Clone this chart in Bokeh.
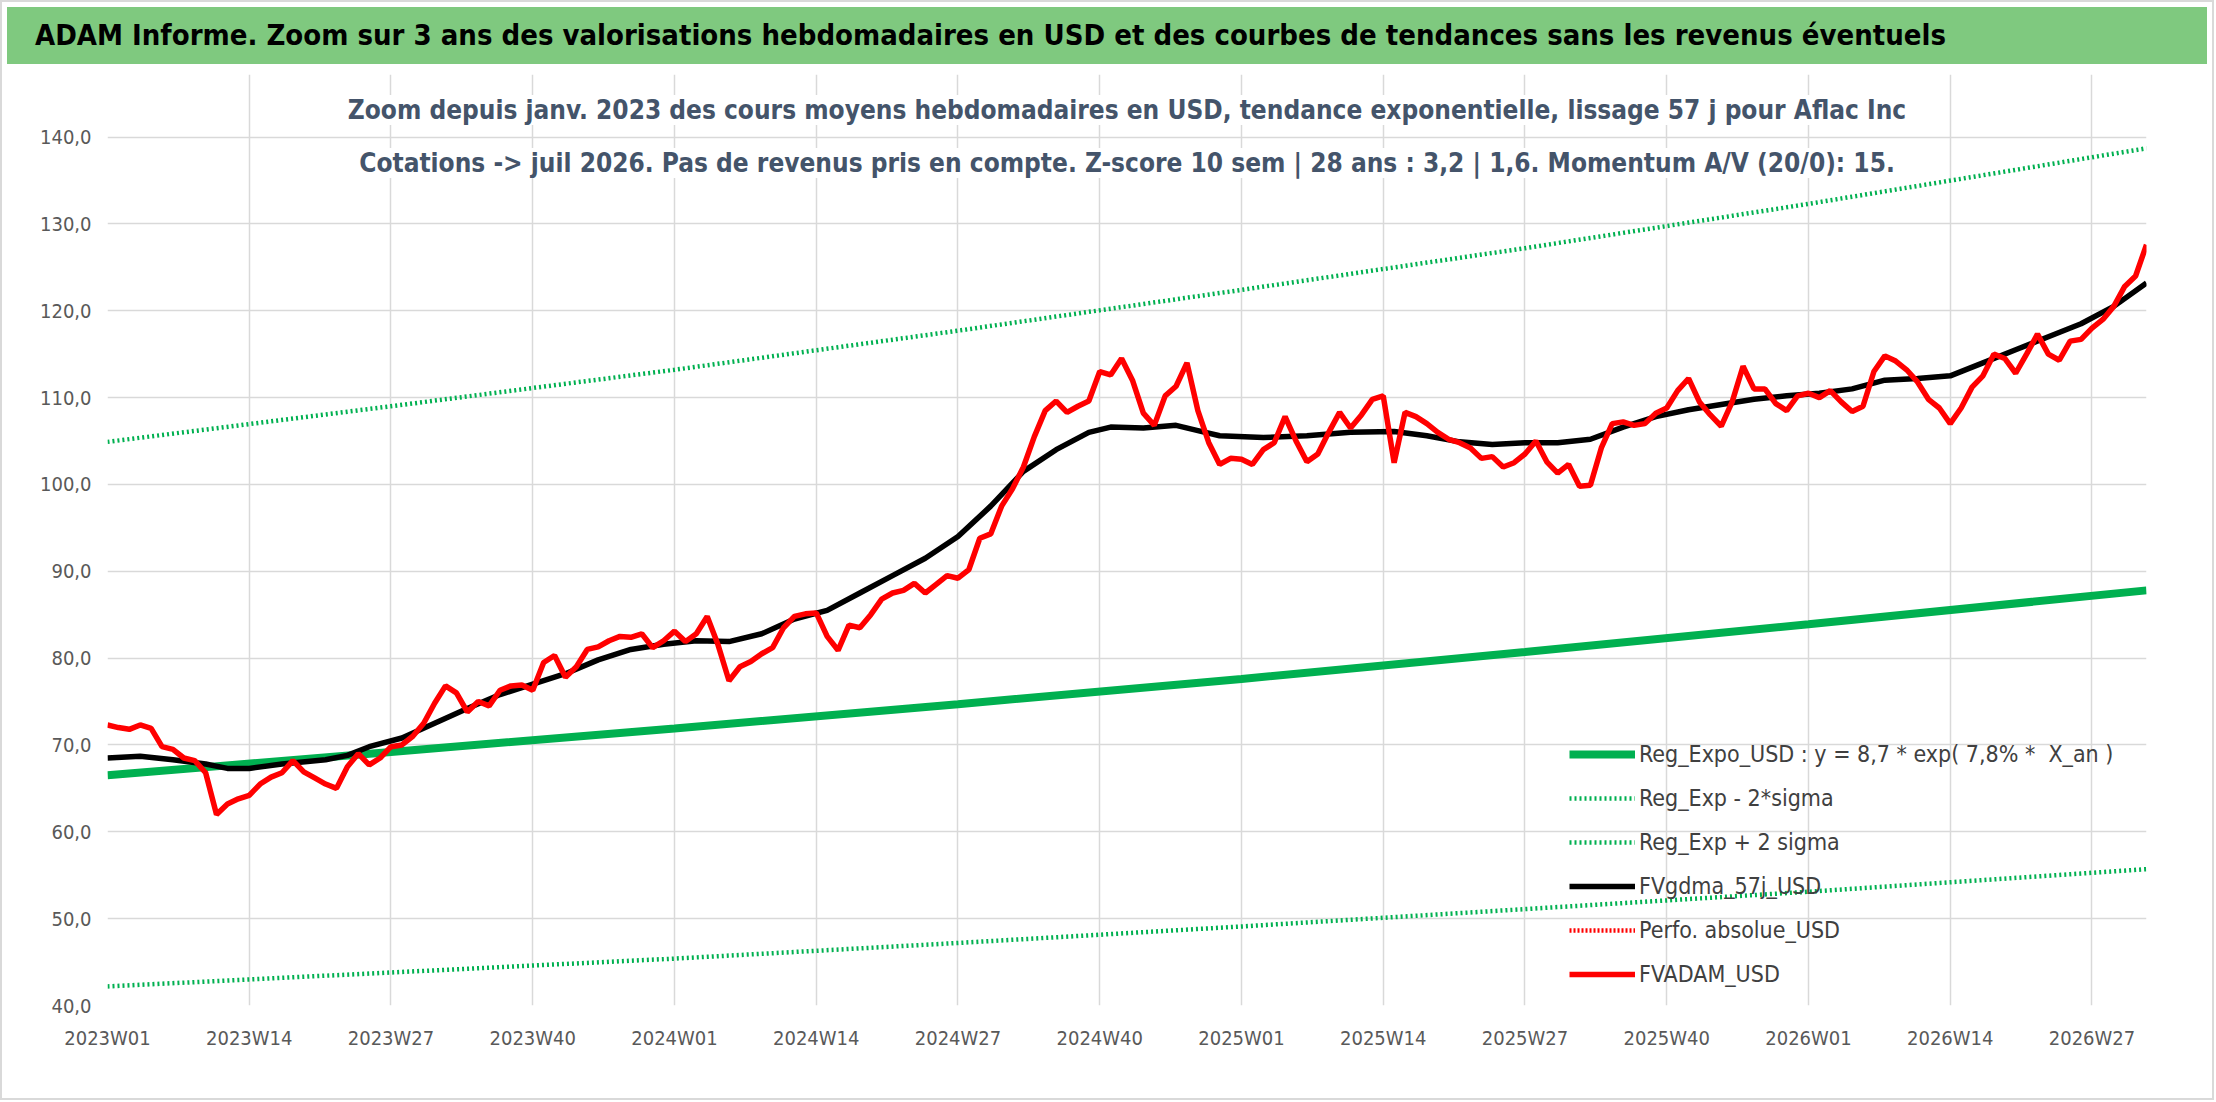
from bokeh.plotting import figure
from bokeh.models import Div, Legend, LegendItem, Label, FixedTicker, Range1d
from bokeh.layouts import column
from bokeh.embed import file_html
from bokeh.resources import INLINE

tick_labels = ["2023W01","2023W14","2023W27","2023W40","2024W01","2024W14","2024W27","2024W40",
               "2025W01","2025W14","2025W27","2025W40","2026W01","2026W14","2026W27"]
tick_pos = [i*13 for i in range(len(tick_labels))]

red_vals = [72.3,72.0,71.8,72.3,71.9,69.8,69.5,68.5,68.2,66.8,62.0,63.2,63.8,64.2,65.5,66.3,66.8,68.2,66.9,66.2,
 65.5,65.0,67.5,69.0,67.7,68.5,69.8,70.0,71.0,72.5,74.8,76.8,76.0,73.8,75.0,74.5,76.3,76.8,76.9,76.3,
 79.5,80.3,77.8,79.0,81.0,81.3,82.0,82.5,82.4,82.8,81.2,82.0,83.1,81.9,82.8,84.8,81.5,77.4,79.0,79.6,
 80.5,81.2,83.5,84.8,85.1,85.2,82.5,80.9,83.8,83.5,85.0,86.8,87.5,87.8,88.6,87.5,88.5,89.5,89.2,90.2,
 93.8,94.3,97.5,99.5,102.0,105.5,108.5,109.6,108.3,109.0,109.6,113.0,112.6,114.5,112.0,108.2,106.8,110.2,111.3,114.0,
 108.5,104.8,102.3,103.0,102.9,102.3,104.0,104.8,107.8,105.0,102.6,103.5,106.0,108.3,106.5,108.0,109.8,110.2,102.5,108.3,
 107.8,107.0,106.0,105.2,104.8,104.2,103.0,103.2,102.0,102.5,103.5,105.0,102.6,101.3,102.3,99.8,99.9,104.2,107.0,107.2,
 106.8,107.0,108.2,108.8,110.8,112.2,109.5,108.0,106.7,109.5,113.6,111.0,111.0,109.3,108.5,110.2,110.5,110.0,110.8,109.5,
 108.4,109.0,113.0,114.8,114.2,113.2,111.8,109.8,108.8,107.0,108.8,111.2,112.5,115.0,114.5,112.8,115.0,117.3,115.0,114.3,
 116.5,116.7,118.0,119.0,120.5,122.8,124.0,127.6]
red_weeks = list(range(len(red_vals)))

black_weeks = [0,3,6,9,11,13,16,20,22,24,27,30,33,36,39,42,45,48,51,54,57,60,63,66,69,72,75,78,81,84,87,90,92,95,98,
               100,102,106,110,114,118,121,124,127,130,133,136,139,142,145,148,151,154,157,160,163,166,169,172,175,178,181,184,187]
black_vals = [68.5,68.7,68.3,67.8,67.3,67.3,67.8,68.3,68.8,69.8,70.8,72.5,74.2,75.8,77.0,78.2,79.8,81.0,81.6,82.0,
              81.9,82.8,84.5,85.5,87.5,89.5,91.5,94.0,97.5,101.5,104.0,106.0,106.6,106.5,106.8,106.2,105.6,105.4,105.6,106.0,
              106.1,105.6,104.9,104.6,104.8,104.8,105.2,106.6,107.8,108.6,109.2,109.8,110.2,110.5,111.0,112.0,112.2,112.5,114.0,115.5,
              117.0,118.5,120.5,123.2]

trend_weeks = [0,26,52,78,104,130,156,187]
trend_vals = [66.5,69.2,71.9,74.7,77.6,80.7,83.9,87.8]
upper_vals = [104.9,109.0,113.2,117.7,122.4,127.2,132.3,138.7]
lower_vals = [42.2,43.8,45.4,47.2,49.1,51.1,53.1,55.7]

W, H = 2200, 1086
banner_h = 57
FONT = "DejaVu Sans Condensed"

banner = Div(text="ADAM Informe. Zoom sur 3 ans des valorisations hebdomadaires en USD et des courbes de tendances sans les revenus éventuels",
             width=W, height=banner_h,
             styles={"background-color": "#7fc97f", "font-family": FONT, "font-weight": "bold",
                     "font-size": "29px", "color": "black", "padding-left": "28px",
                     "line-height": f"{banner_h}px", "white-space": "nowrap", "box-sizing": "border-box",
                     "width": f"{W}px", "height": f"{banner_h}px"})

p = figure(width=W, height=H - banner_h, output_backend="svg", toolbar_location=None,
           x_range=Range1d(0, 187), y_range=Range1d(40, 147.2),
           min_border_left=105, min_border_right=56, min_border_top=5, min_border_bottom=93,
           background_fill_color="white", border_fill_color="white", outline_line_color=None)

p.xaxis.ticker = FixedTicker(ticks=tick_pos)
p.xaxis.major_label_overrides = {t: l for t, l in zip(tick_pos, tick_labels)}
p.yaxis.ticker = FixedTicker(ticks=list(range(40, 141, 10)))
p.yaxis.major_label_overrides = {v: f"{v},0" for v in range(40, 141, 10)}
for ax in (p.xaxis[0], p.yaxis[0]):
    ax.axis_line_color = None
    ax.major_tick_line_color = None
    ax.minor_tick_line_color = None
    ax.major_label_text_font = FONT
    ax.major_label_text_font_size = "20px"
    ax.major_label_text_color = "#595959"
p.xaxis.major_label_standoff = 14
p.yaxis.major_label_standoff = 10
p.xgrid.grid_line_color = "#d9d9d9"
p.ygrid.grid_line_color = "#d9d9d9"
p.xgrid.grid_line_width = 1.5
p.ygrid.grid_line_width = 1.5

g = "#00b050"
r_up = p.line(trend_weeks, upper_vals, color=g, line_width=4.5, line_dash="2 3")
r_lo = p.line(trend_weeks, lower_vals, color=g, line_width=4.5, line_dash="2 3")
r_tr = p.line(trend_weeks, trend_vals, color=g, line_width=8)
r_bk = p.line(black_weeks, black_vals, color="black", line_width=5.5)
r_pf = p.line([-20, -10], [0, 0], color="red", line_width=4.5, line_dash="2 2")
r_rd = p.line(red_weeks, red_vals, color="#ff0000", line_width=5.5)

legend = Legend(items=[
    LegendItem(label="Reg_Expo_USD : y = 8,7 * exp( 7,8% *  X_an )", renderers=[r_tr]),
    LegendItem(label="Reg_Exp - 2*sigma", renderers=[r_lo]),
    LegendItem(label="Reg_Exp + 2 sigma", renderers=[r_up]),
    LegendItem(label="FVgdma_57j_USD", renderers=[r_bk]),
    LegendItem(label="Perfo. absolue_USD", renderers=[r_pf]),
    LegendItem(label="FVADAM_USD", renderers=[r_rd]),
], location=(1462, 12), background_fill_alpha=0, border_line_color=None,
   label_text_font=FONT, label_text_font_size="23px", label_text_color="#404040",
   glyph_width=66, glyph_height=38, spacing=6, label_standoff=4, padding=0)
p.add_layout(legend, "center")

sub1 = "Zoom depuis janv. 2023 des cours moyens hebdomadaires en USD, tendance exponentielle, lissage 57 j pour Aflac Inc"
sub2 = "Cotations -> juil 2026. Pas de revenus pris en compte. Z-score 10 sem | 28 ans : 3,2 | 1,6. Momentum A/V (20/0): 15."
for txt, yv in ((sub1, 143.1), (sub2, 137.0)):
    p.add_layout(Label(x=93.5, y=yv, text=txt, text_align="center", text_baseline="middle",
                       text_font=FONT, text_font_size="26px", text_font_style="bold", text_color="#44546a",
                       background_fill_color="white", background_fill_alpha=1.0))

lay = column(banner, p, spacing=0, styles={"border": "2px solid #d9d9d9"})
open("out.html", "w").write(file_html(lay, INLINE))
